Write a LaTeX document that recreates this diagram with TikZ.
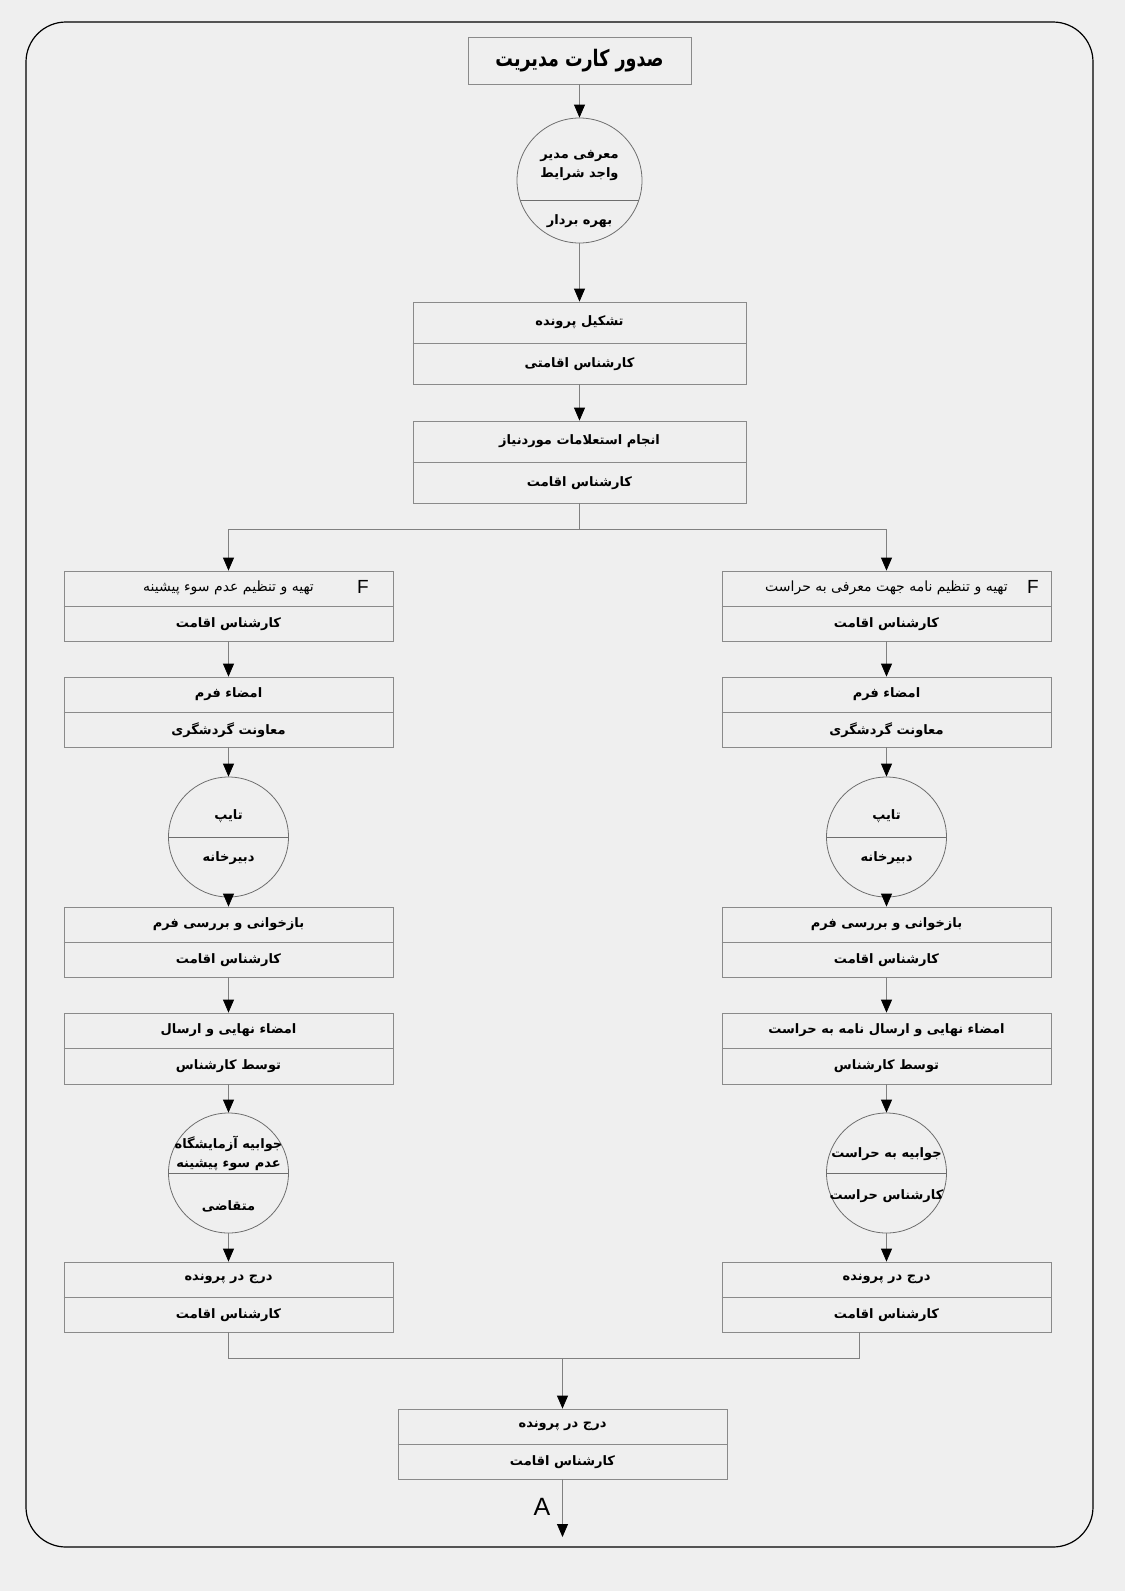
\documentclass[tikz,border=0pt]{standalone}
\usepackage{fontspec}
\usepackage{graphicx}
\usetikzlibrary{arrows.meta,calc}
\TeXXeTstate=1
\newfontfamily\fa[Script=Arabic]{DejaVu Sans}
\newfontfamily\lat{Liberation Sans}
\newcommand{\fat}[1]{{\fa\bfseries\beginR #1\endR}}
\newcommand{\far}[1]{{\fa\fontsize{14}{18}\selectfont\beginR #1\endR}}
\definecolor{bgcol}{HTML}{EFEFEF}
\definecolor{linegray}{HTML}{808080}
\definecolor{boxgray}{HTML}{8A8A8A}
\definecolor{circgray}{HTML}{6E6E6E}
\tikzset{
  conn/.style={draw=linegray, line width=0.8pt},
  arr/.style={conn, -{Triangle[length=13pt,width=11pt,color=black]}},
  boxst/.style={rectangle, draw=boxgray, line width=0.8pt, inner sep=0pt},
  divline/.style={draw=boxgray, line width=0.8pt},
  circst/.style={circle, draw=circgray, line width=0.8pt, minimum size=120pt, inner sep=0pt},
  txt/.style={font=\fontsize{13}{19}\selectfont, inner sep=0pt, align=center},
  flabel/.style={font=\lat\fontsize{19}{19}\selectfont, inner sep=0pt}
}
% name, cx, cy, w, h, top text, bottom text
\newcommand{\procbox}[7]{%
  \node[boxst, minimum width=#4pt, minimum height=#5pt] (#1) at (#2,#3) {};
  \draw[divline] (#1.west) -- (#1.east);
  \node[txt] (#1t) at ($(#1.north)!0.25!(#1.south)$) {#6};
  \node[txt] (#1b) at ($(#1.north)!0.75!(#1.south)$) {#7};
}
\begin{document}
\begin{tikzpicture}[x=1pt,y=-1pt]
\useasboundingbox (0,0) rectangle (1125,1591);
\fill[bgcol] (0,0) rectangle (1125,1591);
\draw[black, line width=1.2pt, rounded corners=40pt] (26,22) rectangle (1093,1547);

% title
\node[boxst, minimum width=223pt, minimum height=47pt, font=\fontsize{17.5}{17.5}\selectfont] (title) at (579.5,60.5) {\scalebox{1}[1.3]{\fat{صدور کارت مدیریت}}};

% circle 1
\node[circst, minimum size=125pt] (c1) at (579.5,180.5) {};
\draw[divline, draw=circgray] ($(c1.center)+(-59.4,19.5)$) -- ($(c1.center)+(59.4,19.5)$);
\node[txt] (c1t) at (579.5,166) {\fat{معرفی مدیر}\\\fat{واجد شرایط}};
\node[txt] (c1b) at (579.5,221) {\fat{بهره بردار}};

\procbox{b2}{579.5}{343}{333}{82}{\fat{تشکیل پرونده}}{\fat{کارشناس اقامتی}}
\procbox{b3}{579.5}{462}{333}{82}{\fat{انجام استعلامات موردنیاز}}{\fat{کارشناس اقامت}}

% left column
\procbox{l1}{228.5}{606}{329}{70}{\far{تهیه و تنظیم عدم سوء پیشینه}}{\fat{کارشناس اقامت}}
\node[flabel] (lf) at (363,587) {F};
\procbox{l2}{228.5}{712}{329}{70}{\fat{امضاء فرم}}{\fat{معاونت گردشگری}}
\node[circst] (l3) at (228.5,837) {};
\draw[divline, draw=circgray] (l3.west) -- (l3.east);
\node[txt] (l3t) at (228.5,816) {\fat{تایپ}};
\node[txt] (l3b) at (228.5,858) {\fat{دبیرخانه}};
\procbox{l4}{228.5}{942}{329}{70}{\fat{بازخوانی و بررسی فرم}}{\fat{کارشناس اقامت}}
\procbox{l5}{228.5}{1048.5}{329}{71}{\fat{امضاء نهایی و ارسال}}{\fat{توسط کارشناس}}
\node[circst] (l6) at (228.5,1173) {};
\draw[divline, draw=circgray] (l6.west) -- (l6.east);
\node[txt] (l6t) at (228.5,1153) {\fat{جوابیه آزمایشگاه}\\\fat{عدم سوء پیشینه}};
\node[txt] (l6b) at (228.5,1206) {\fat{متقاضی}};
\procbox{l7}{228.5}{1297}{329}{70}{\fat{درج در پرونده}}{\fat{کارشناس اقامت}}

% right column
\procbox{r1}{886.5}{606}{329}{70}{\far{تهیه و تنظیم نامه جهت معرفی به حراست}}{\fat{کارشناس اقامت}}
\node[flabel] (rf) at (1033,587) {F};
\procbox{r2}{886.5}{712}{329}{70}{\fat{امضاء فرم}}{\fat{معاونت گردشگری}}
\node[circst] (r3) at (886.5,837) {};
\draw[divline, draw=circgray] (r3.west) -- (r3.east);
\node[txt] (r3t) at (886.5,816) {\fat{تایپ}};
\node[txt] (r3b) at (886.5,858) {\fat{دبیرخانه}};
\procbox{r4}{886.5}{942}{329}{70}{\fat{بازخوانی و بررسی فرم}}{\fat{کارشناس اقامت}}
\procbox{r5}{886.5}{1048.5}{329}{71}{\fat{امضاء نهایی و ارسال نامه به حراست}}{\fat{توسط کارشناس}}
\node[circst] (r6) at (886.5,1173) {};
\draw[divline, draw=circgray] (r6.west) -- (r6.east);
\node[txt] (r6t) at (886.5,1154) {\fat{جوابیه به حراست}};
\node[txt] (r6b) at (886.5,1196) {\fat{کارشناس حراست}};
\procbox{r7}{886.5}{1297}{329}{70}{\fat{درج در پرونده}}{\fat{کارشناس اقامت}}

% final
\procbox{fin}{562.5}{1444}{329}{70}{\fat{درج در پرونده}}{\fat{کارشناس اقامت}}
\coordinate (endpt) at (562.5,1537);
\node[font=\lat\fontsize{25}{25}\selectfont, inner sep=0pt] (lblA) at (542,1507) {A};

% connectors
\draw[arr] (title) -- (c1);
\draw[arr] (c1) -- (b2);
\draw[arr] (b2) -- (b3);
\coordinate (sp) at (579.5,529);
\draw[conn] (b3.south) -- (sp);
\draw[arr] (sp) -| (l1.north);
\draw[arr] (sp) -| (r1.north);
\draw[arr] (l1) -- (l2);
\draw[arr] (l2) -- (l3);
\draw[arr] (l3) -- (l4);
\draw[arr] (l4) -- (l5);
\draw[arr] (l5) -- (l6);
\draw[arr] (l6) -- (l7);
\draw[arr] (r1) -- (r2);
\draw[arr] (r2) -- (r3);
\draw[arr] (r3) -- (r4);
\draw[arr] (r4) -- (r5);
\draw[arr] (r5) -- (r6);
\draw[arr] (r6) -- (r7);
\coordinate (jr) at (859,1358);
\coordinate (jm) at (562.5,1358);
\coordinate (r7b) at (r7.south -| jr);
\draw[conn] (l7.south) |- (jr) -- (r7b);
\draw[arr] (jm) -- (fin.north);
\draw[arr] (fin.south) -- (endpt);
\end{tikzpicture}
\end{document}
